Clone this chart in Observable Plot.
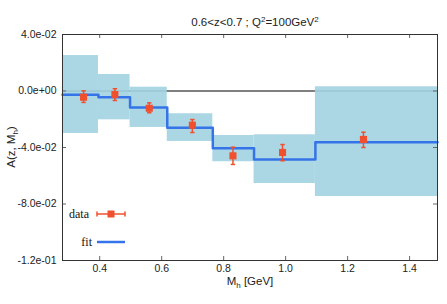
<!DOCTYPE html>
<html><head><meta charset="utf-8">
<script src="https://cdn.jsdelivr.net/npm/d3@7"></script>
<script src="https://cdn.jsdelivr.net/npm/@observablehq/plot@0.6"></script>
<style>
body{margin:0;background:#fff}
#chart{width:447px;height:304px}
svg text{font-family:"Liberation Sans",Arial,sans-serif}
</style>
</head><body><div id="chart"></div>
<script>
// ---- data ----
const binEdges   = [0.28, 0.396, 0.498, 0.618, 0.765, 0.898, 1.096, 1.49];
const fitValues  = [-0.0027, -0.0044, -0.0117, -0.0260, -0.0405, -0.0485, -0.0362];
const bandLow    = [-0.0301, -0.0204, -0.0258, -0.0357, -0.0501, -0.0655, -0.0747];
const bandHigh   = [0.0251, 0.0117, 0.0027, -0.0161, -0.0315, -0.0310, 0.0030];
const dataX      = [0.348, 0.449, 0.560, 0.699, 0.830, 0.990, 1.251];
const dataY      = [-0.0044, -0.0025, -0.0122, -0.0242, -0.0459, -0.0435, -0.0343];
const dataErrLow = [-0.0081, -0.0067, -0.0154, -0.0294, -0.0520, -0.0494, -0.0400];
const dataErrHigh= [0.0001, 0.0016, -0.0084, -0.0202, -0.0398, -0.0379, -0.0292];
const xTicks = [0.4, 0.6, 0.8, 1.0, 1.2, 1.4];
const yTicks = [0.04, 0, -0.04, -0.08, -0.12];
const xDomain = [0.28, 1.49];
const yDomain = [-0.12, 0.04];

// ---- derived tables ----
const bins = fitValues.map((f, i) => ({x1: binEdges[i], x2: binEdges[i+1], fit: f, lo: bandLow[i], hi: bandHigh[i]}));
const stepPts = bins.map(b => ({x: b.x1, y: b.fit})).concat([{x: binEdges[binEdges.length-1], y: fitValues[fitValues.length-1]}]);
const points = dataX.map((x, i) => ({x, y: dataY[i], lo: dataErrLow[i], hi: dataErrHigh[i]}));

const W = 447, H = 304, mL = 62, mR = 10, mT = 34, mB = 44;
const innerW = W - mL - mR, innerH = H - mT - mB;
const red = "#f0502e", blue = "#3474e8", band = "#a2d3e2";
const fmtE = v => { const s = v.toExponential(1); return s.replace(/e([+-])(\d+)$/, (m, sg, d) => "e" + sg + d.padStart(2, "0")); };
const cap = {draw(ctx, size){ const w = Math.sqrt(size / Math.PI); ctx.moveTo(-w, 0); ctx.lineTo(w, 0); }};

const plot = Plot.plot({
  width: W, height: H,
  marginLeft: mL, marginRight: mR, marginTop: mT, marginBottom: mB,
  style: {fontFamily: "Liberation Sans, Arial, sans-serif", fontSize: "10.5px", color: "#222", background: "#fff"},
  x: {domain: xDomain, axis: null},
  y: {domain: yDomain, axis: null},
  marks: [
    Plot.ruleY([0], {stroke: "#000", strokeWidth: 1}),
    Plot.rect(bins, {x1: "x1", x2: "x2", y1: "lo", y2: "hi", fill: band, fillOpacity: 0.9}),
    Plot.line(stepPts, {x: "x", y: "y", curve: "step-after", stroke: blue, strokeWidth: 2.5}),
    Plot.ruleX(points, {x: "x", y1: "lo", y2: "hi", stroke: red, strokeWidth: 1.5}),
    Plot.dot(points, {x: "x", y: "lo", symbol: cap, r: 2.2, stroke: red, strokeWidth: 1.5, fill: "none"}),
    Plot.dot(points, {x: "x", y: "hi", symbol: cap, r: 2.2, stroke: red, strokeWidth: 1.5, fill: "none"}),
    Plot.dot(points, {x: "x", y: "y", symbol: "square", r: 4, fill: red, stroke: "none"}),
    Plot.tickX(xTicks, {x: d => d, insetTop: innerH - 4, stroke: "#666"}),
    Plot.tickX(xTicks, {x: d => d, insetBottom: innerH - 4, stroke: "#666"}),
    Plot.tickY(yTicks, {y: d => d, insetRight: innerW - 4, stroke: "#666"}),
    Plot.tickY(yTicks, {y: d => d, insetLeft: innerW - 4, stroke: "#666"}),
    Plot.frame({stroke: "#333", strokeWidth: 1}),
    Plot.axisX(xTicks, {tickSize: 0, tickPadding: 4, tickFormat: d => d.toFixed(1), label: null, fill: "#222"}),
    Plot.axisY(yTicks, {tickSize: 0, tickPadding: 6, tickFormat: fmtE, label: null, fill: "#222"})
  ]
});
document.getElementById("chart").appendChild(plot);

const svg = d3.select(plot);
// title
const t = svg.append("text").attr("x", 255).attr("y", 26).attr("text-anchor", "middle")
  .attr("font-size", 11.5).attr("fill", "#222");
t.append("tspan").text("0.6<z<0.7 ; Q");
t.append("tspan").attr("dy", -4).attr("font-size", 8).text("2");
t.append("tspan").attr("dy", 4).text("=100GeV");
t.append("tspan").attr("dy", -4).attr("font-size", 8).text("2");
// x label
const xl = svg.append("text").attr("x", 250).attr("y", 285).attr("text-anchor", "middle")
  .attr("font-size", 11.5).attr("fill", "#222");
xl.append("tspan").text("M");
xl.append("tspan").attr("dy", 3).attr("font-size", 8).text("h");
xl.append("tspan").attr("dy", -3).text(" [GeV]");
// y label
const yl = svg.append("text").attr("transform", "translate(15,147) rotate(-90)").attr("text-anchor", "middle")
  .attr("font-size", 11.5).attr("fill", "#222");
yl.append("tspan").text("A(z, M");
yl.append("tspan").attr("dy", 3).attr("font-size", 8).text("h");
yl.append("tspan").attr("dy", -3).text(")");
// legend
const lg = svg.append("g");
lg.append("text").attr("x", 89).attr("y", 218).attr("text-anchor", "end")
  .style("font-family", "Liberation Serif, Times New Roman, serif").attr("font-size", 12).attr("fill", "#111").text("data");
lg.append("line").attr("x1", 97).attr("x2", 125).attr("y1", 214).attr("y2", 214).attr("stroke", red).attr("stroke-width", 1.5);
lg.append("line").attr("x1", 97).attr("x2", 97).attr("y1", 211.5).attr("y2", 216.5).attr("stroke", red).attr("stroke-width", 1.5);
lg.append("line").attr("x1", 125).attr("x2", 125).attr("y1", 211.5).attr("y2", 216.5).attr("stroke", red).attr("stroke-width", 1.5);
lg.append("rect").attr("x", 107.5).attr("y", 210.5).attr("width", 7).attr("height", 7).attr("fill", red);
lg.append("text").attr("x", 92).attr("y", 246).attr("text-anchor", "end")
  .style("font-family", "Liberation Serif, Times New Roman, serif").attr("font-size", 12).attr("fill", "#111").text("fit");
lg.append("line").attr("x1", 97).attr("x2", 125).attr("y1", 242).attr("y2", 242).attr("stroke", blue).attr("stroke-width", 2.5);
</script>
</body></html>
